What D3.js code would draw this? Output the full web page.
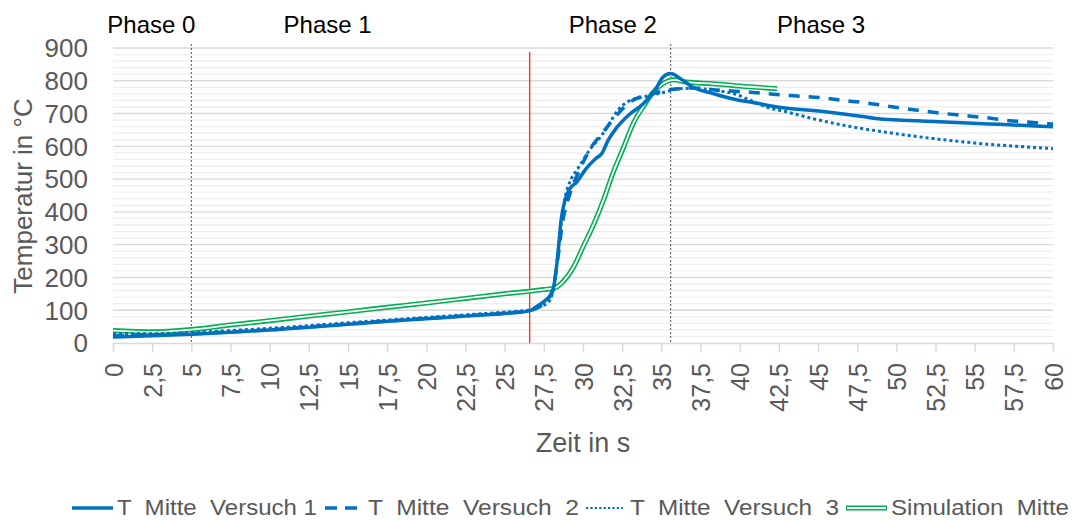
<!DOCTYPE html>
<html>
<head>
<meta charset="utf-8">
<script src="https://cdn.jsdelivr.net/npm/d3@7/dist/d3.min.js"></script>
<style>
  html, body { margin: 0; padding: 0; background: #fff; }
  svg { display: block; font-family: "Liberation Sans", Arial, sans-serif; }
  .legend-text { white-space: pre; }
</style>
</head>
<body>
<svg id="chart" width="1073" height="520"></svg>
<script>
// Temperature at the centre of the part: three test runs and the simulation
const timeV1 = [0, 2.5, 5, 7.5, 10, 12.5, 15, 17.5, 20, 22.5, 25, 26.6, 27.0, 27.6, 28.0, 28.2, 28.4, 28.6, 28.85, 29.1, 29.6, 30.2, 30.8, 31.2, 31.6, 32.1, 32.9, 33.85, 34.6, 35.1, 35.6, 36.2, 37.0, 38.3, 39.8, 40.7, 42.4, 45.6, 47.7, 48.7, 52.4, 56.6, 60];
const tempV1 = [18, 22, 27, 33, 40, 48, 57, 66, 74, 82, 90, 98, 110, 130, 150, 191, 273, 374, 435, 466, 491, 532, 562, 578, 618, 654, 695, 730, 771, 811, 822, 807, 781, 761, 742, 735, 720, 705, 692, 685, 676, 667, 660];

const timeV2 = [0, 2.5, 5, 7.5, 10, 12.5, 15, 17.5, 20, 22.5, 25, 26.6, 27.2, 27.7, 28.1, 28.4, 28.7, 29.0, 29.4, 29.9, 30.4, 31.3, 32.2, 33.0, 33.8, 34.5, 35.3, 36.2, 37.0, 38.5, 40.7, 43.2, 45.3, 46.6, 48, 49.1, 51.4, 52.7, 54.1, 55.8, 57.1, 58.4, 60];
const tempV2 = [22, 25, 28, 34, 40, 49, 58, 67, 75, 83, 91, 99, 110, 130, 170, 260, 370, 430, 486, 540, 588, 644, 698, 735, 753, 761, 771, 776, 778, 772, 765, 755, 748, 740, 733, 725, 710, 702, 695, 687, 679, 674, 668];

const timeV3 = [0, 2.5, 5, 7.5, 10, 12.5, 15, 17.5, 20, 22.5, 25, 26.6, 27.3, 27.8, 28.2, 28.5, 28.8, 29.2, 29.6, 30.0, 30.4, 31.2, 31.7, 32.0, 33.0, 33.8, 34.5, 35.2, 36.0, 37.0, 38.5, 39.6, 40.7, 41.7, 43, 44.9, 47, 49.2, 51.3, 53.4, 55.5, 57.7, 60];
const tempV3 = [28, 28, 32, 38, 45, 53, 62, 70, 78, 86, 94, 101, 112, 125, 190, 320, 430, 496, 527, 557, 588, 634, 670, 695, 740, 750, 758, 765, 775, 777, 770, 761, 740, 720, 705, 682, 661, 644, 630, 618, 608, 600, 593];

const timeSim = [0, 2.5, 5, 7.5, 10, 12.5, 15, 17.5, 20, 22.5, 25, 27.5, 28.2, 28.7, 29.4, 30.0, 30.7, 31.3, 31.9, 32.6, 33.2, 33.9, 34.5, 35.1, 35.8, 36.6, 38.3, 40, 42.4];
const tempSim = [38, 34, 41, 55, 68, 82, 95, 109, 122, 136, 150, 163, 168, 186, 232, 293, 364, 435, 517, 598, 669, 725, 766, 791, 803, 796, 791, 784, 776];

const seriesNames = ["T  Mitte  Versuch 1", "T  Mitte  Versuch  2", "T  Mitte  Versuch  3", "Simulation  Mitte"];

const xTicks = d3.range(0, 60.01, 2.5);
const yTicks = d3.range(0, 901, 100);
const yMinorTicks = d3.range(0, 901, 20).filter(v => v % 100 !== 0);

// phase boundaries (s) and phase captions
const phaseBounds = [5, 35.6];
const heatEnd = 26.6;
const phaseNames = ["Phase 0", "Phase 1", "Phase 2", "Phase 3"];
const phaseCentres = [2.45, 13.7, 31.9, 45.2];

const svg = d3.select("#chart");
const x = d3.scaleLinear().domain([0, 60]).range([113, 1053]);
const y = d3.scaleLinear().domain([0, 900]).range([343, 48]);

const blue = "#0070C0", green = "#00B050", grey = "#595959";

// gridlines
svg.append("g").selectAll("line").data(yMinorTicks).join("line")
  .attr("x1", x(0)).attr("x2", x(60))
  .attr("y1", d => y(d)).attr("y2", d => y(d))
  .attr("stroke", "#eeeeee").attr("stroke-width", 1.3);
svg.append("g").selectAll("line").data(yTicks.filter(d => d > 0)).join("line")
  .attr("x1", x(0)).attr("x2", x(60))
  .attr("y1", d => y(d)).attr("y2", d => y(d))
  .attr("stroke", "#d9d9d9").attr("stroke-width", 1.4);

// y axis labels
svg.append("g").selectAll("text").data(yTicks).join("text")
  .attr("x", 88).attr("y", d => y(d)).attr("dy", "0.36em")
  .attr("text-anchor", "end").attr("font-size", 26).attr("fill", grey)
  .text(d => d);

// x axis
const xAxis = d3.axisBottom(x).tickValues(xTicks).tickSize(9).tickPadding(10)
  .tickFormat(d => String(d).replace(".", ","));
const gx = svg.append("g").attr("transform", `translate(0,${y(0)})`).call(xAxis);
gx.select(".domain").attr("stroke", "#d9d9d9").attr("stroke-width", 1.4);
gx.selectAll(".tick line").attr("stroke", "#d9d9d9").attr("stroke-width", 1.4);
gx.selectAll(".tick text")
  .attr("font-family", "Liberation Sans, Arial, sans-serif")
  .attr("font-size", 25).attr("fill", grey)
  .attr("transform", "rotate(-90)")
  .attr("text-anchor", "end")
  .attr("x", -20).attr("y", 0).attr("dy", "0.36em");

// axis titles
svg.append("text").attr("x", (x(0) + x(60)) / 2).attr("y", 452)
  .attr("text-anchor", "middle").attr("font-size", 27).attr("fill", grey)
  .text("Zeit in s");
svg.append("text").attr("transform", "translate(32,196) rotate(-90)")
  .attr("text-anchor", "middle").attr("font-size", 26).attr("fill", grey)
  .text("Temperatur in °C");

// phase boundaries
svg.append("g").selectAll("line").data(phaseBounds).join("line")
  .attr("x1", d => x(d)).attr("x2", d => x(d))
  .attr("y1", 44).attr("y2", y(0))
  .attr("stroke", "#555").attr("stroke-width", 1).attr("stroke-dasharray", "2,2");
svg.append("line")
  .attr("x1", x(heatEnd)).attr("x2", x(heatEnd))
  .attr("y1", 52).attr("y2", y(0))
  .attr("stroke", "#ff0000").attr("stroke-width", 1.1);

svg.append("g").selectAll("text").data(phaseNames).join("text")
  .attr("x", (d, i) => x(phaseCentres[i])).attr("y", 33)
  .attr("text-anchor", "middle").attr("font-size", 24).attr("fill", "#000")
  .text(d => d);

// curves
const toPts = (ts, vs) => ts.map((t, i) => [t, vs[i]]);
const line = d3.line().x(d => x(d[0])).y(d => y(d[1])).curve(d3.curveMonotoneX);

const plot = svg.append("g").attr("fill", "none");
// simulation: green double line
plot.append("path").attr("d", line(toPts(timeSim, tempSim)))
  .attr("stroke", green).attr("stroke-width", 5);
plot.append("path").attr("d", line(toPts(timeSim, tempSim)))
  .attr("stroke", "#fff").attr("stroke-width", 1.8);

plot.append("path").attr("d", line(toPts(timeV3, tempV3)))
  .attr("stroke", blue).attr("stroke-width", 3).attr("stroke-dasharray", "3,3");
plot.append("path").attr("d", line(toPts(timeV2, tempV2)))
  .attr("stroke", blue).attr("stroke-width", 3.5).attr("stroke-dasharray", "11,9");
plot.append("path").attr("d", line(toPts(timeV1, tempV1)))
  .attr("stroke", blue).attr("stroke-width", 3.5).attr("stroke-linejoin", "round");

// legend
const legendItems = [
  { x0: 72, x1: 113, tx: 117, tw: 200, style: "solid" },
  { x0: 325, x1: 357, tx: 368, tw: 211, style: "dash" },
  { x0: 586, x1: 623, tx: 630, tw: 209, style: "dot" },
  { x0: 846, x1: 887, tx: 891, tw: 178, style: "double" }
];
const lg = svg.append("g");
legendItems.forEach((it, i) => {
  const ly = 508;
  if (it.style === "double") {
    lg.append("line").attr("x1", it.x0).attr("x2", it.x1).attr("y1", ly).attr("y2", ly)
      .attr("stroke", green).attr("stroke-width", 5);
    lg.append("line").attr("x1", it.x0 + 1).attr("x2", it.x1 - 1).attr("y1", ly).attr("y2", ly)
      .attr("stroke", "#fff").attr("stroke-width", 1.8);
  } else {
    lg.append("line").attr("x1", it.x0).attr("x2", it.x1).attr("y1", ly).attr("y2", ly)
      .attr("stroke", blue)
      .attr("stroke-width", it.style === "dot" ? 2.2 : 3.5)
      .attr("stroke-dasharray", it.style === "dash" ? "12,8" : it.style === "dot" ? "2.2,2.2" : null);
  }
  lg.append("text").attr("class", "legend-text").attr("x", it.tx).attr("y", 515)
    .attr("font-size", 22).attr("fill", grey)
    .attr("textLength", it.tw).attr("lengthAdjust", "spacingAndGlyphs")
    .text(seriesNames[i]);
});
</script>
</body>
</html>
